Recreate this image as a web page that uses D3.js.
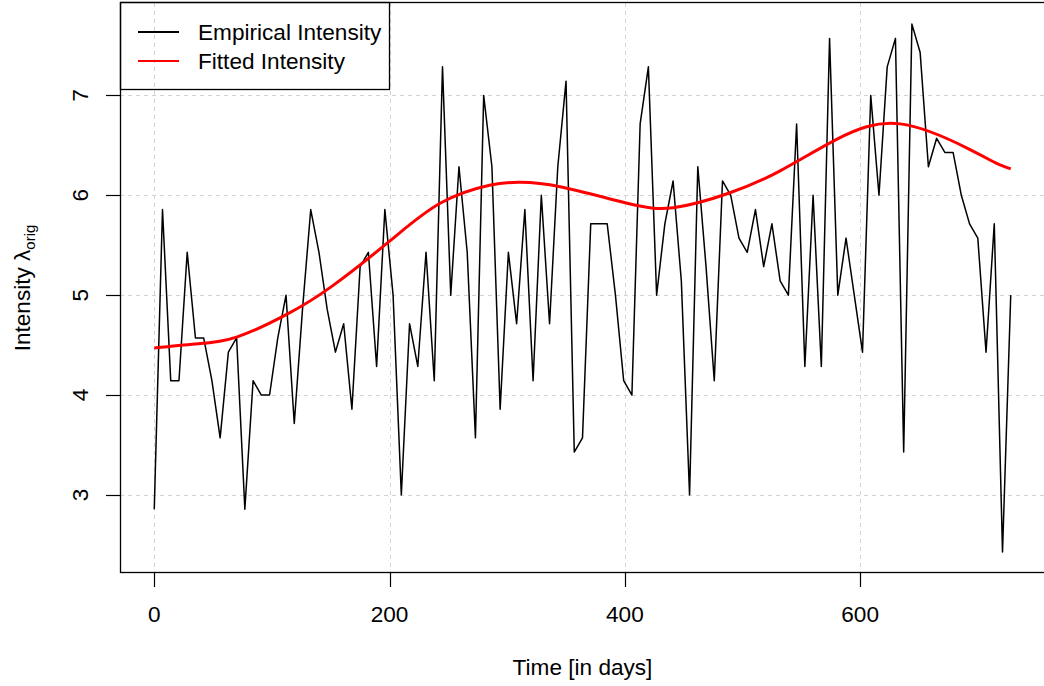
<!DOCTYPE html>
<html>
<head>
<meta charset="utf-8">
<script src="https://cdn.jsdelivr.net/npm/d3@7"></script>
<style>
  html, body { margin: 0; padding: 0; background: #fff; }
  svg { display: block; font-family: "Liberation Sans", Arial, Helvetica, sans-serif; }
</style>
</head>
<body>
<svg id="chart" width="1044" height="686"></svg>
<script>
// ---- Data ----
const empDays = [0,7,14,21,28,35,42,49,56,63,70,77,84,91,98,105,112,119,126,133,140,147,154,161,168,175,182,189,196,203,210,217,224,231,238,245,252,259,266,273,280,287,294,301,308,315,322,329,336,343,350,357,364,371,378,385,392,399,406,413,420,427,434,441,448,455,462,469,476,483,490,497,504,511,518,525,532,539,546,553,560,567,574,581,588,595,602,609,616,623,630,637,644,651,658,665,672,679,686,693,700,707,714,721,728];
const empValues = [2.857,5.857,4.143,4.143,5.429,4.571,4.571,4.143,3.571,4.429,4.571,2.857,4.143,4.000,4.000,4.571,5.000,3.714,4.857,5.857,5.429,4.857,4.429,4.714,3.857,5.286,5.429,4.286,5.857,5.000,3.000,4.714,4.286,5.429,4.143,7.286,5.000,6.286,5.429,3.571,7.000,6.286,3.857,5.429,4.714,5.857,4.143,6.000,4.714,6.286,7.143,3.429,3.571,5.714,5.714,5.714,5.000,4.143,4.000,6.714,7.286,5.000,5.714,6.143,5.143,3.000,6.286,5.286,4.143,6.143,6.000,5.571,5.429,5.857,5.286,5.714,5.143,5.000,6.714,4.286,6.000,4.286,7.571,5.000,5.571,5.000,4.429,7.000,6.000,7.286,7.571,3.429,7.714,7.429,6.286,6.571,6.429,6.429,6.000,5.714,5.571,4.429,5.714,2.429,5.000];
const fitDays = [0,35,70,113,150,200,243,285,311,345,402,441,487,532,580,634,693,716,728];
const fitValues = [4.47,4.51,4.58,4.81,5.08,5.54,5.92,6.10,6.13,6.085,5.92,5.875,6.015,6.245,6.56,6.715,6.46,6.32,6.265];
const xTicks = [0,200,400,600];
const yTicks = [3,4,5,6,7];
const xTitle = "Time [in days]";
const yTitleMain = "Intensity ";
const yTitleGreek = "λ";
const yTitleSub = "orig";
const legendLabels = ["Empirical Intensity", "Fitted Intensity"];
const legendColors = ["#000000", "#ff0000"];

// ---- Layout ----
const plot = { left: 120, right: 1045, top: 3, bottom: 573 };
const fs = 22.6;
const svg = d3.select("#chart");

const xMin = d3.min(empDays), xMax = d3.max(empDays);
const yMin = d3.min(empValues), yMax = d3.max(empValues);
const xPad = (xMax - xMin) * 0.04, yPad = (yMax - yMin) * 0.04;
const x = d3.scaleLinear().domain([xMin - xPad, xMax + xPad]).range([plot.left, plot.right]);
const y = d3.scaleLinear().domain([yMin - yPad, yMax + yPad]).range([plot.bottom, plot.top]);

// Grid
const grid = svg.append("g").attr("stroke", "#d3d3d3").attr("stroke-width", 1).attr("stroke-dasharray", "4,4");
grid.selectAll("line.v").data(xTicks).enter().append("line")
  .attr("x1", d => Math.round(x(d)) + 0.5).attr("x2", d => Math.round(x(d)) + 0.5)
  .attr("y1", plot.top).attr("y2", plot.bottom);
grid.selectAll("line.h").data(yTicks).enter().append("line")
  .attr("y1", d => Math.round(y(d)) + 0.5).attr("y2", d => Math.round(y(d)) + 0.5)
  .attr("x1", plot.left).attr("x2", plot.right);

// Empirical line
const empData = empDays.map((d, i) => [d, empValues[i]]);
svg.append("path").datum(empData)
  .attr("fill", "none").attr("stroke", "#000").attr("stroke-width", 1.5)
  .attr("stroke-linejoin", "round")
  .attr("d", d3.line().x(d => x(d[0])).y(d => y(d[1])));

// Fitted line
const fitData = fitDays.map((d, i) => [d, fitValues[i]]);
svg.append("path").datum(fitData)
  .attr("fill", "none").attr("stroke", "#ff0000").attr("stroke-width", 3)
  .attr("d", d3.line().curve(d3.curveNatural).x(d => x(d[0])).y(d => y(d[1])));

// Box
svg.append("rect")
  .attr("x", plot.left + 0.5).attr("y", plot.top - 0.5)
  .attr("width", plot.right - plot.left).attr("height", plot.bottom - plot.top)
  .attr("fill", "none").attr("stroke", "#000").attr("stroke-width", 1.3);

// X axis
const xAxis = svg.append("g");
xAxis.selectAll("line").data(xTicks).enter().append("line")
  .attr("x1", d => Math.round(x(d)) + 0.5).attr("x2", d => Math.round(x(d)) + 0.5)
  .attr("y1", plot.bottom).attr("y2", plot.bottom + 14)
  .attr("stroke", "#000").attr("stroke-width", 1.2);
xAxis.selectAll("text").data(xTicks).enter().append("text")
  .attr("x", d => x(d)).attr("y", 622)
  .attr("text-anchor", "middle").attr("font-size", fs).attr("fill", "#000")
  .text(d => d);

// Y axis
const yAxis = svg.append("g");
yAxis.selectAll("line").data(yTicks).enter().append("line")
  .attr("y1", d => Math.round(y(d)) + 0.5).attr("y2", d => Math.round(y(d)) + 0.5)
  .attr("x1", plot.left - 14).attr("x2", plot.left)
  .attr("stroke", "#000").attr("stroke-width", 1.2);
yAxis.selectAll("text").data(yTicks).enter().append("text")
  .attr("transform", d => `translate(88,${y(d)}) rotate(-90)`)
  .attr("text-anchor", "middle").attr("font-size", fs).attr("fill", "#000")
  .text(d => d);

// Axis titles
svg.append("text")
  .attr("x", (plot.left + plot.right) / 2).attr("y", 675)
  .attr("text-anchor", "middle").attr("font-size", fs).attr("fill", "#000")
  .text(xTitle);

const yt = svg.append("text")
  .attr("transform", `translate(30,${(plot.top + plot.bottom) / 2}) rotate(-90)`)
  .attr("text-anchor", "middle").attr("font-size", fs).attr("fill", "#000");
yt.append("tspan").text(yTitleMain);
yt.append("tspan").text(yTitleGreek);
yt.append("tspan").attr("font-size", 15).attr("dy", 5).text(yTitleSub);

// Legend
const leg = svg.append("g");
leg.append("rect")
  .attr("x", plot.left + 0.5).attr("y", plot.top - 0.5)
  .attr("width", 269).attr("height", 87)
  .attr("fill", "none").attr("stroke", "#000").attr("stroke-width", 1.3);
legendLabels.forEach((lab, i) => {
  const cy = 32 + i * 29;
  leg.append("line")
    .attr("x1", 138).attr("x2", 179).attr("y1", cy).attr("y2", cy)
    .attr("stroke", legendColors[i]).attr("stroke-width", 2.2);
  leg.append("text")
    .attr("x", 198).attr("y", cy + 8)
    .attr("font-size", fs).attr("fill", "#000")
    .text(lab);
});
</script>
</body>
</html>
